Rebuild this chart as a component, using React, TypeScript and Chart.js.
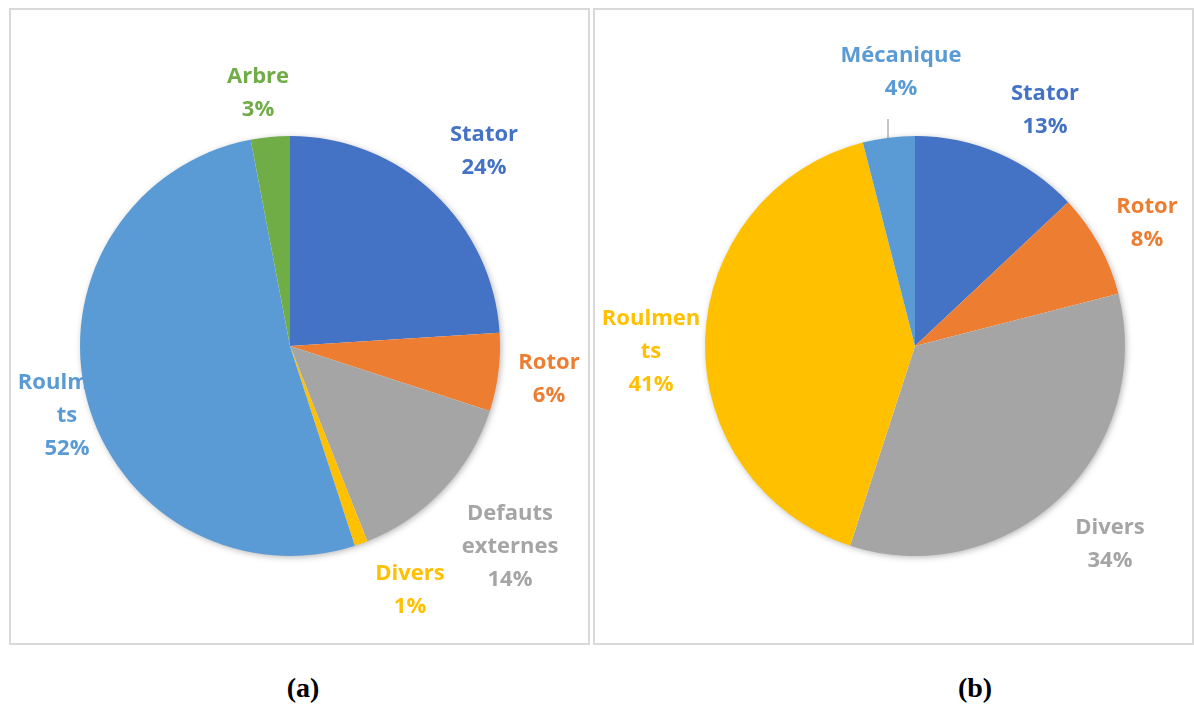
import React, { useEffect, useRef } from "react";
import { Chart, registerables } from "chart.js";

Chart.register(...registerables);

// ---- Data: panel (a)
const categoriesA = ["Stator", "Rotor", "Defauts externes", "Divers", "Roulments", "Arbre"];
const valuesA = [24, 6, 14, 1, 52, 3];
const colorsA = ["#4472C4", "#ED7D31", "#A5A5A5", "#FFC000", "#5B9BD5", "#70AD47"];
const labelLinesA = [["Stator"], ["Rotor"], ["Defauts", "externes"], ["Divers"], ["Roulmen", "ts"], ["Arbre"]];

// ---- Data: panel (b)
const categoriesB = ["Stator", "Rotor", "Divers", "Roulments", "Mécanique"];
const valuesB = [13, 8, 34, 41, 4];
const colorsB = ["#4472C4", "#ED7D31", "#A5A5A5", "#FFC000", "#5B9BD5"];
const labelLinesB = [["Stator"], ["Rotor"], ["Divers"], ["Roulmen", "ts"], ["Mécanique"]];

// label block centre offsets from the pie centre (layout only)
const labelOffsetsA = [[194, -195], [259, 33], [220, 201], [120, 244], [-223, 70], [-32, -253]];
const labelOffsetsB = [[130, -236], [232, -123], [195, 198], [-264, 6], [-14, -274]];

const FONT = "bold 22px 'Open Sans', 'Noto Sans', sans-serif";
const LINE_H = 33;

const labelPlugin = {
  id: "customLabels",
  beforeDatasetsDraw(chart: any, _args: any, opts: any) {
    const ctx = chart.ctx;
    const meta = chart.getDatasetMeta(0);
    const arc0 = meta.data[0];
    if (!arc0) return;
    const cx = arc0.x;
    const cy = arc0.y;
    const r = arc0.outerRadius;
    const values: number[] = chart.data.datasets[0].data;
    const total = values.reduce((a: number, b: number) => a + b, 0);
    const colors: string[] = chart.data.datasets[0].backgroundColor;
    ctx.save();
    ctx.font = FONT;
    ctx.textAlign = "center";
    ctx.textBaseline = "middle";
    values.forEach((v: number, i: number) => {
      const lines = [...opts.lines[i], Math.round((v / total) * 100) + "%"];
      const [ox, oy] = opts.offsets[i];
      const x = cx + ox;
      const y0 = cy + oy - ((lines.length - 1) * LINE_H) / 2;
      ctx.fillStyle = colors[i];
      lines.forEach((t: string, k: number) => ctx.fillText(t, x, y0 + k * LINE_H));
    });
    if (opts.leader) {
      const [x1, y1, x2, y2] = opts.leader;
      ctx.strokeStyle = "#A6A6A6";
      ctx.lineWidth = 1.3;
      ctx.beginPath();
      ctx.moveTo(cx + x1, cy + y1);
      ctx.lineTo(cx + x2, cy + y2);
      ctx.stroke();
    }
    // soft shadow under the pie
    ctx.shadowColor = "rgba(0,0,0,0.35)";
    ctx.shadowBlur = 7;
    ctx.shadowOffsetX = 1.5;
    ctx.shadowOffsetY = 1.5;
    ctx.fillStyle = "#ffffff";
    ctx.beginPath();
    ctx.arc(cx, cy, r - 1, 0, Math.PI * 2);
    ctx.fill();
    ctx.restore();
  },
};

function PieChart(props: {
  categories: string[];
  values: number[];
  colors: string[];
  lines: string[][];
  offsets: number[][];
  padding: any;
  width: number;
  height: number;
  leader?: number[];
}) {
  const ref = useRef<HTMLCanvasElement>(null);
  useEffect(() => {
    if (!ref.current) return;
    const chart = new Chart(ref.current, {
      type: "pie",
      data: {
        labels: props.categories,
        datasets: [
          {
            data: props.values,
            backgroundColor: props.colors,
            borderWidth: 0,
            radius: 210,
          } as any,
        ],
      },
      options: {
        responsive: false,
        maintainAspectRatio: false,
        animation: false,
        devicePixelRatio: 1,
        layout: { padding: props.padding },
        plugins: {
          legend: { display: false },
          tooltip: { enabled: false },
          title: { display: false },
          customLabels: { lines: props.lines, offsets: props.offsets, leader: props.leader },
        } as any,
      },
      plugins: [labelPlugin],
    });
    return () => chart.destroy();
  }, []);
  return <canvas ref={ref} width={props.width} height={props.height} style={{ position: "absolute", left: 0, top: 0 }} />;
}

const boxStyle = (left: number, width: number): React.CSSProperties => ({
  position: "absolute",
  left,
  top: 8,
  width,
  height: 637,
  border: "2px solid #D9D9D9",
  boxSizing: "border-box",
});

const captionStyle = (cx: number): React.CSSProperties => ({
  position: "absolute",
  left: cx - 40,
  top: 670,
  width: 80,
  textAlign: "center",
  fontFamily: "'Liberation Serif', 'Times New Roman', serif",
  fontWeight: "bold",
  fontSize: 28,
  lineHeight: "36px",
  color: "#000",
});

export default function App() {
  return (
    <div style={{ position: "fixed", left: 0, top: 0, width: 1194, height: 706, background: "#fff", overflow: "hidden" }}>
      <div style={boxStyle(9, 581)} />
      <div style={boxStyle(593, 601)} />
      <div style={{ position: "absolute", left: 10, top: 10, width: 578, height: 632 }}>
        <PieChart
          categories={categoriesA}
          values={valuesA}
          colors={colorsA}
          lines={labelLinesA}
          offsets={labelOffsetsA}
          padding={{ left: 0, right: 18, top: 40, bottom: 0 }}
          width={578}
          height={632}
        />
      </div>
      <div style={{ position: "absolute", left: 595, top: 10, width: 596, height: 632 }}>
        <PieChart
          categories={categoriesB}
          values={valuesB}
          colors={colorsB}
          lines={labelLinesB}
          offsets={labelOffsetsB}
          padding={{ left: 44, right: 0, top: 40, bottom: 0 }}
          width={596}
          height={632}
          leader={[-27, -227, -27, -208]}
        />
      </div>
      <div style={captionStyle(303)}>(a)</div>
      <div style={captionStyle(975)}>(b)</div>
    </div>
  );
}
